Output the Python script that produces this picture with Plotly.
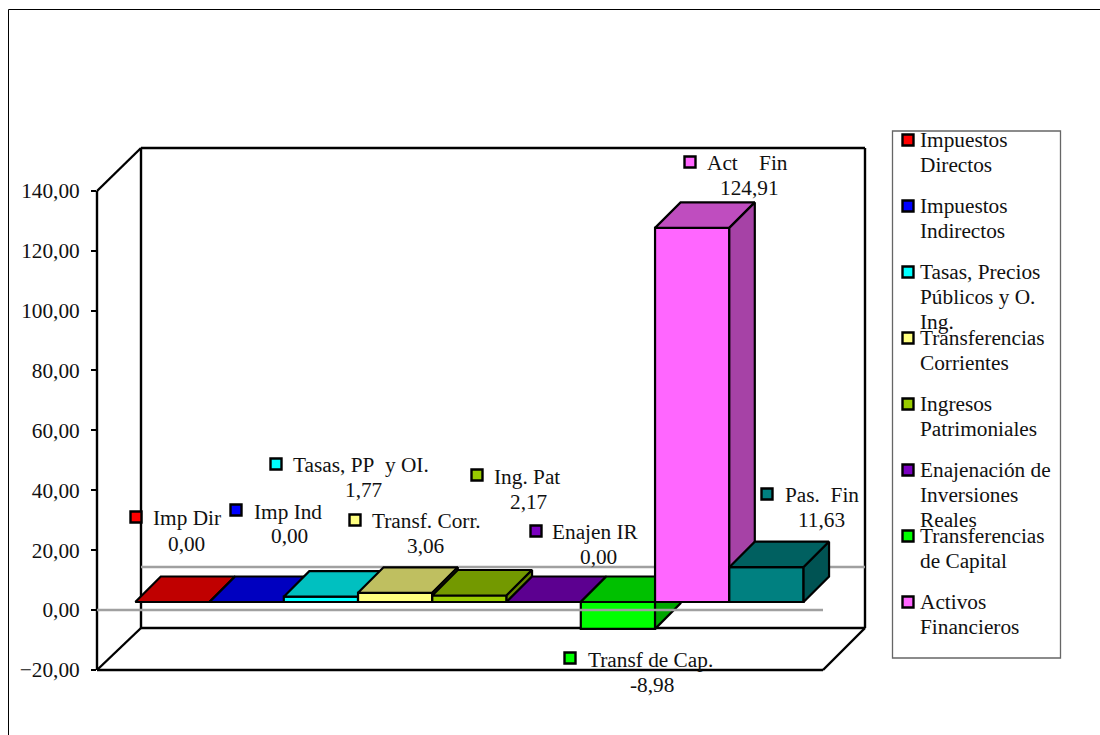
import plotly.graph_objects as go

# ---- data ----
short_labels = ["Imp Dir", "Imp Ind", "Tasas, PP\u00a0\u00a0y OI.", "Transf. Corr.", "Ing. Pat",
                "Enajen IR", "Transf de Cap.", "Act\u00a0\u00a0\u00a0\u00a0Fin", "Pas.\u00a0\u00a0Fin"]
legend_labels = [
    ["Impuestos", "Directos"],
    ["Impuestos", "Indirectos"],
    ["Tasas, Precios", "Públicos y O.", "Ing."],
    ["Transferencias", "Corrientes"],
    ["Ingresos", "Patrimoniales"],
    ["Enajenación de", "Inversiones", "Reales"],
    ["Transferencias", "de Capital"],
    ["Activos", "Financieros"],
]
values = [0.00, 0.00, 1.77, 3.06, 2.17, 0.00, -8.98, 124.91, 11.63]
y_ticks = [-20, 0, 20, 40, 60, 80, 100, 120, 140]

# ---- style ----
front = ["#FF0000", "#0000FF", "#00FFFF", "#FFFF80", "#99CC00", "#7B00C0", "#00FF00", "#FF66FF", "#008080"]
top = ["#C00000", "#0000C0", "#00C0C0", "#BFBF60", "#739900", "#5C0090", "#00C000", "#BF4DBF", "#006060"]
side = ["#A60000", "#0000A6", "#00A6A6", "#A6A653", "#638500", "#50007D", "#00A600", "#A642A6", "#005353"]

FONT = "Liberation Serif"
FS = 21.3
OFF = 0                 # page body margin is removed below
W, H = 1100, 735
L, R = 97, 870          # plot area in page pixels
T, B = 148, 670
PX_PER_CAT = 74.25
PX_PER_UNIT = 2.995
BAR0_PX = 135.3         # left edge of the first bar
ZERO_PX = 610           # zero on the front wall
LIFT = 8 / PX_PER_UNIT  # bars stand part-way into the floor depth
DX = 25.5 / PX_PER_CAT  # bar depth
DY = 25.5 / PX_PER_UNIT

x_range = [(L - BAR0_PX) / PX_PER_CAT - 0.5, (R - BAR0_PX) / PX_PER_CAT - 0.5]
y_range = [(ZERO_PX - B) / PX_PER_UNIT, (ZERO_PX - T) / PX_PER_UNIT]


def px(x):
    return (x - L) / (R - L)


def py(y):
    return (B - y) / (B - T)


fig = go.Figure()
line = dict(color="black", width=2.2)
for i, v in enumerate(values):
    suffix = "" if i == 0 else str(i + 1)
    ax = dict(xaxis="x" + suffix, yaxis="y" + suffix)
    name = short_labels[i].replace("\u00a0", " ")
    fig.add_trace(go.Bar(x=[i], y=[v], base=LIFT, width=1, marker=dict(color=front[i], line=line),
                         name=name, showlegend=False, **ax))
    hi = LIFT + max(v, 0)
    lo = LIFT + min(v, 0)
    l, r = i - 0.5, i + 0.5
    fig.add_trace(go.Scatter(x=[l, r, r + DX, l + DX, l], y=[hi, hi, hi + DY, hi + DY, hi],
                             fill="toself", fillcolor=top[i], mode="lines", line=line,
                             showlegend=False, hoverinfo="skip", **ax))
    fig.add_trace(go.Scatter(x=[r, r + DX, r + DX, r, r], y=[hi, hi + DY, lo + DY, lo, hi],
                             fill="toself", fillcolor=side[i], mode="lines", line=line,
                             showlegend=False, hoverinfo="skip", **ax))

shapes = []


def seg(x0, y0, x1, y1, color="black", width=2.4, layer="below"):
    shapes.append(dict(type="line", xref="paper", yref="paper", x0=px(x0), y0=py(y0), x1=px(x1), y1=py(y1),
                       line=dict(color=color, width=width), layer=layer))


# outer frame
seg(8.5, 9.5, 1100, 9.5, width=1, layer="above")
seg(8.5, 9.5, 8.5, 735, width=1, layer="above")
# 3D walls
seg(97, 191, 97, 670)
seg(97, 670, 823, 670)
seg(141, 148, 141, 628)
seg(141, 148, 865, 148)
seg(865, 148, 865, 628)
seg(141, 628, 865, 628)
seg(97, 191, 141, 148)
seg(97, 670, 141, 628)
seg(823, 670, 865, 628)
# grey zero lines
seg(141, 567, 865, 567, color="#A0A0A0", width=2.5)
seg(97, 610, 823, 610, color="#A0A0A0", width=2.5, layer="above")


def swatch(cx, cy, color):
    shapes.append(dict(type="rect", xref="paper", yref="paper", x0=px(cx - 5.5), x1=px(cx + 5.5),
                       y0=py(cy + 5.5), y1=py(cy - 5.5), fillcolor=color,
                       line=dict(color="black", width=2.4), layer="above"))


annotations = []


def text(s, x, y, anchor="center"):
    annotations.append(dict(text=s, xref="paper", yref="paper", x=px(x), y=py(y), xanchor=anchor,
                            yanchor="middle", showarrow=False, borderpad=0,
                            font=dict(family=FONT, size=FS, color="#111111")))


# data labels: marker centre, first-line centre, second-line centre
label_pos = [
    (136, 517, 186.5, 518, 186, 544),
    (236, 510, 287.5, 512, 289, 536),
    (276, 464, 361, 465, 364, 490),
    (355, 520, 426.5, 521, 426, 546),
    (477, 475, 527, 477, 529, 502),
    (536, 531, 595, 532, 598, 557),
    (570, 658, 650, 660, 652, 685),
    (690, 162, 747, 163, 749, 188),
    (767, 494, 821.5, 495, 821, 520),
]
for lab, v, c, (mx, my, x1, y1, x2, y2) in zip(short_labels, values, front, label_pos):
    swatch(mx, my, c)
    text(lab, x1, y1)
    text(f"{v:.2f}".replace(".", ","), x2, y2)

# legend
shapes.append(dict(type="rect", xref="paper", yref="paper", x0=px(892.5), x1=px(1060.5), y0=py(658), y1=py(131),
                   line=dict(color="#666666", width=1.3), layer="above"))
legend_colors = front[:8]
for k, (lines, c) in enumerate(zip(legend_labels, legend_colors)):
    y0 = 140 + 66 * k
    swatch(908, y0, c)
    for j, s in enumerate(lines):
        text(s, 918.5, y0 + 25 * j, anchor="left")

layout = dict(
    width=W, height=H,
    margin=dict(l=L - OFF, r=W - (R - OFF), t=T - OFF, b=H - (B - OFF), pad=0),
    paper_bgcolor="white", plot_bgcolor="rgba(0,0,0,0)",
    separators=",.", showlegend=False, barmode="overlay",
    font=dict(family=FONT, size=FS, color="#111111"),
    shapes=shapes, annotations=annotations,
    xaxis=dict(range=x_range, visible=False, fixedrange=True),
    yaxis=dict(range=y_range, tickmode="array", tickvals=y_ticks, tickformat=".2f", ticks="outside",
               ticklen=5, tickwidth=1.5, tickcolor="black", showgrid=False, zeroline=False, showline=False,
               fixedrange=True, ticklabelstandoff=7),
)
for i in range(2, len(values) + 1):
    layout[f"xaxis{i}"] = dict(range=x_range, visible=False, overlaying="x", anchor=f"y{i}", fixedrange=True)
    layout[f"yaxis{i}"] = dict(range=y_range, visible=False, overlaying="y", anchor=f"x{i}", fixedrange=True)
fig.update_layout(**layout)
fig.write_html("out.html", post_script="document.body.style.margin='0';", config={"displayModeBar": False})
